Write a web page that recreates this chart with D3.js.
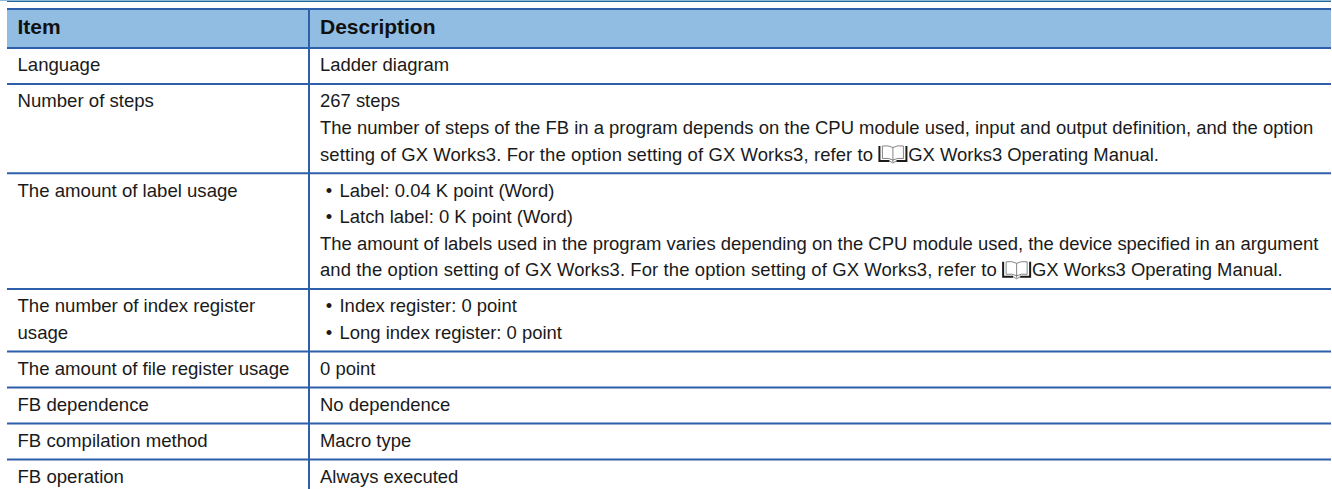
<!DOCTYPE html>
<html>
<head>
<meta charset="utf-8">
<script src="https://d3js.org/d3.v7.min.js"></script>
<style>
  html, body { margin: 0; padding: 0; background: #fff; overflow: hidden; }
  text { font-family: "Liberation Sans", Arial, sans-serif; fill: #1a1a1a; }
</style>
</head>
<body>
<svg id="chart" width="1332" height="489"></svg>
<script>
// table contents
var headers = ["Item", "Description"];
var items = [
  ["Language"],
  ["Number of steps"],
  ["The amount of label usage"],
  ["The number of index register", "usage"],
  ["The amount of file register usage"],
  ["FB dependence"],
  ["FB compilation method"],
  ["FB operation"]
];
var MANUAL = "@@";  // marks where the manual icon goes
var descriptions = [
  ["Ladder diagram"],
  ["267 steps",
   "The number of steps of the FB in a program depends on the CPU module used, input and output definition, and the option",
   "setting of GX Works3. For the option setting of GX Works3, refer to" + MANUAL + "GX Works3 Operating Manual."],
  ["\u2022Label: 0.04 K point (Word)",
   "\u2022Latch label: 0 K point (Word)",
   "The amount of labels used in the program varies depending on the CPU module used, the device specified in an argument",
   "and the option setting of GX Works3. For the option setting of GX Works3, refer to" + MANUAL + "GX Works3 Operating Manual."],
  ["\u2022Index register: 0 point",
   "\u2022Long index register: 0 point"],
  ["0 point"],
  ["No dependence"],
  ["Macro type"],
  ["Always executed"]
];

var svg = d3.select("#chart");
var blue = "#2e5fab";

var left = 7, right = 1331, colX = 309;
var headerTop = 9, headerBottom = 48;
var lineH = 26.6, pad = 9.4, fontSize = 18.46;

// row tops come from the number of text lines in each row
var rowLines = descriptions.map(function(d, i) { return Math.max(d.length, items[i].length); });
var rowY = [headerBottom];
rowLines.forEach(function(n, i) { rowY.push(rowY[i] + pad + n * lineH); });

// top rule
svg.append("rect").attr("x", 0).attr("y", 0).attr("width", right).attr("height", 1).attr("fill", "#8fb8d8");
svg.append("rect").attr("x", left).attr("y", 1).attr("width", right - left).attr("height", 1).attr("fill", "#1f6596");

// header band
svg.append("rect").attr("x", left).attr("y", headerTop).attr("width", right - left)
  .attr("height", headerBottom - headerTop).attr("fill", "#91bde3");

svg.selectAll("text.head").data(headers).enter().append("text")
  .attr("class", "head")
  .attr("x", function(d, i) { return i === 0 ? 17.5 : 320; })
  .attr("y", 33.5)
  .attr("font-size", 21)
  .attr("font-weight", "bold")
  .style("fill", "#111")
  .text(function(d) { return d; });

// rules
var hLines = [headerTop, headerBottom].concat(rowY.slice(1));
svg.selectAll("line.h").data(hLines).enter().append("line")
  .attr("class", "h")
  .attr("x1", left).attr("x2", right)
  .attr("y1", function(d) { return d; }).attr("y2", function(d) { return d; })
  .attr("stroke", blue).attr("stroke-width", 2);
svg.append("line")
  .attr("x1", colX).attr("x2", colX).attr("y1", headerTop).attr("y2", 489)
  .attr("stroke", blue).attr("stroke-width", 2);

function baseline(r, l) { return rowY[r] + 23.3 + l * lineH; }

// left column
items.forEach(function(lines, r) {
  lines.forEach(function(t, l) {
    svg.append("text").attr("x", 17.5).attr("y", baseline(r, l)).attr("font-size", 18.6).text(t);
  });
});

// open book glyph used for manual references
function bookIcon(x, y) {
  var g = svg.append("g").attr("transform", "translate(" + x + "," + y + ")");
  g.append("path").attr("d", "M1,-14.5 L1,0.5 L11,0.5 M28,-14.5 L28,0.5 L18,0.5")
    .attr("fill", "none").attr("stroke", "#1a1a1a").attr("stroke-width", 2);
  g.append("path").attr("d", "M4,-14.5 Q10,-15.5 14.5,-13 Q19,-15.5 25,-14.5 L25,-2 Q19,-3 14.5,-0.5 Q10,-3 4,-2 Z M14.5,-13 L14.5,1.5 M11,0.5 L14.5,2.5 L18,0.5")
    .attr("fill", "none").attr("stroke", "#777").attr("stroke-width", 0.9);
}

// right column
descriptions.forEach(function(lines, r) {
  lines.forEach(function(t, l) {
    var y = baseline(r, l);
    if (t.charAt(0) === "\u2022") {
      svg.append("text").attr("x", 325.8).attr("y", y).attr("font-size", fontSize).text("\u2022");
      svg.append("text").attr("x", 339.5).attr("y", y).attr("font-size", fontSize).text(t.slice(1));
    } else if (t.indexOf(MANUAL) >= 0) {
      var parts = t.split(MANUAL);
      var a = svg.append("text").attr("x", 320).attr("y", y).attr("font-size", fontSize)
        .style("letter-spacing", "0.115px").text(parts[0]);
      var w = a.node().getComputedTextLength();
      bookIcon(320 + w + 5.2, y);
      svg.append("text").attr("x", 320 + w + 35).attr("y", y).attr("font-size", fontSize).text(parts[1]);
    } else {
      svg.append("text").attr("x", 320).attr("y", y).attr("font-size", fontSize).text(t);
    }
  });
});
</script>
</body>
</html>
